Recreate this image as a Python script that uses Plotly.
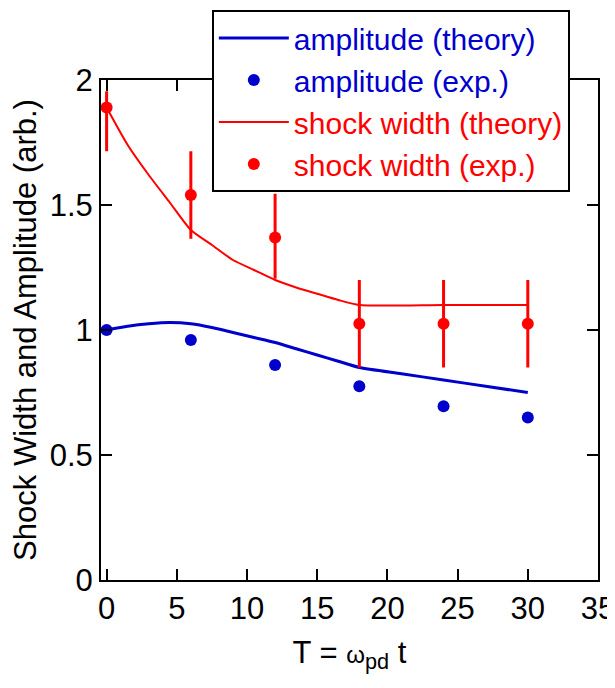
import plotly.graph_objects as go

# measurement times
t_exp = [0, 6, 12, 18, 24, 30]

# amplitude (experiment)
amp_exp = [1.0, 0.96, 0.86, 0.775, 0.695, 0.65]

# shock width (experiment) with error bars
width_exp = [1.89, 1.54, 1.37, 1.025, 1.025, 1.025]
width_err_plus = [0.065, 0.175, 0.175, 0.175, 0.175, 0.175]
width_err_minus = [0.175, 0.175, 0.165, 0.175, 0.175, 0.175]

# amplitude (theory)
t_amp_th = [0, 1.5, 3, 4.5, 6, 7.5, 9, 10.5, 12, 13.5, 15, 16.5, 18, 21, 24, 27, 30]
amp_th = [1.0, 1.015, 1.025, 1.03, 1.025, 1.01, 0.99, 0.97, 0.95, 0.925, 0.9, 0.875,
          0.85, 0.825, 0.8, 0.775, 0.75]

# shock width (theory)
t_width_th = [0, 1.5, 3, 4.5, 6, 7.5, 9, 10.5, 12, 13.5, 15, 16.5, 18, 24, 30]
width_th = [1.89, 1.74, 1.62, 1.51, 1.40, 1.34, 1.28, 1.24, 1.20, 1.17, 1.145, 1.12,
            1.10, 1.10, 1.10]

BLUE = "rgb(0,0,204)"
RED = "rgb(255,0,0)"
FONT = "Arial, Liberation Sans, sans-serif"

fig = go.Figure()

fig.add_trace(go.Scatter(
    x=t_amp_th, y=amp_th, mode="lines",
    line=dict(color=BLUE, width=3, shape="spline", smoothing=0.6),
    name=f"<span style='color:{BLUE}'>amplitude (theory)</span>"))
fig.add_trace(go.Scatter(
    x=t_exp, y=amp_exp, mode="markers", marker=dict(color=BLUE, size=12),
    name=f"<span style='color:{BLUE}'>amplitude (exp.)</span>"))
fig.add_trace(go.Scatter(
    x=t_width_th, y=width_th, mode="lines",
    line=dict(color=RED, width=2, shape="spline", smoothing=0.6),
    name=f"<span style='color:{RED}'>shock width (theory)</span>"))
fig.add_trace(go.Scatter(
    x=t_exp, y=width_exp, mode="markers", marker=dict(color=RED, size=12),
    error_y=dict(type="data", symmetric=False, array=width_err_plus,
                 arrayminus=width_err_minus, color=RED, thickness=3, width=0),
    name=f"<span style='color:{RED}'>shock width (exp.)</span>"))

axis_common = dict(
    showline=True, linecolor="black", linewidth=2, mirror="ticks",
    ticks="inside", ticklen=11, tickwidth=2, tickcolor="black",
    showgrid=False, zeroline=False, ticklabeloverflow="allow",
    automargin=False,
    tickfont=dict(size=31, color="black", family=FONT),
)

fig.update_xaxes(range=[-0.4, 35], tickvals=[0, 5, 10, 15, 20, 25, 30, 35],
                 title=dict(text="T = <span style='font-size:24px'>ω</span>"
                                 "<sub>pd</sub> t",
                            standoff=16,
                            font=dict(size=31, color="black", family=FONT)),
                 **axis_common)
fig.update_yaxes(range=[0, 2], tickvals=[0, 0.5, 1, 1.5, 2],
                 ticktext=["0", "0.5", "1", "1.5", "2"],
                 title=dict(text="Shock Width and Amplitude (arb.)", standoff=6,
                            font=dict(size=31, color="black", family=FONT)),
                 **axis_common)

# page body adds an 8px margin all round, so the figure is kept small enough
# that the page does not scroll
fig.update_layout(
    width=607, height=672,
    margin=dict(l=93, r=17, t=72, b=100, autoexpand=False),
    plot_bgcolor="white", paper_bgcolor="white",
    font=dict(family=FONT, color="black"),
    legend=dict(x=0.223, y=1.14, xanchor="left", yanchor="top",
                bgcolor="white", bordercolor="black", borderwidth=2,
                font=dict(size=30, family=FONT), tracegroupgap=0,
                itemwidth=70),
)

fig.write_html("out.html")
